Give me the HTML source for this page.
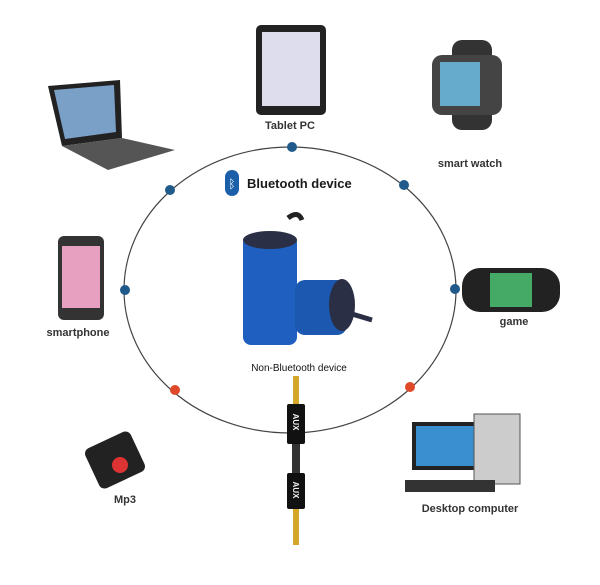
<!DOCTYPE html>
<html><head><meta charset="utf-8"><style>
body{margin:0;background:#fff;width:600px;height:580px;overflow:hidden;font-family:"Liberation Sans",sans-serif}
</style></head><body>
<svg width="600" height="580" viewBox="0 0 600 580" xmlns="http://www.w3.org/2000/svg">
<ellipse cx="290" cy="290" rx="166" ry="143" fill="none" stroke="#444" stroke-width="1.2"/>
<g fill="#1f5a8a">
<circle cx="292" cy="147" r="5"/><circle cx="170" cy="190" r="5"/><circle cx="404" cy="185" r="5"/>
<circle cx="125" cy="290" r="5"/><circle cx="455" cy="289" r="5"/></g>
<g fill="#e0482a"><circle cx="175" cy="390" r="5"/><circle cx="410" cy="387" r="5"/></g>
<g font-weight="bold" font-size="11" fill="#333" text-anchor="middle">
<text x="290" y="129">Tablet PC</text><text x="470" y="167">smart watch</text>
<text x="78" y="336">smartphone</text><text x="514" y="325">game</text>
<text x="125" y="503">Mp3</text><text x="470" y="512">Desktop computer</text>
<text x="299" y="371" font-weight="normal" font-size="10" fill="#111">Non-Bluetooth device</text>
<text x="247" y="188" font-size="13" fill="#1a1a1a" text-anchor="start">Bluetooth device</text></g>
<rect x="225" y="170" width="14" height="26" rx="7" fill="#1a5fa8"/><text x="232" y="188" font-size="12" fill="#fff" text-anchor="middle">ᛒ</text>
<!-- tablet -->
<rect x="256" y="25" width="70" height="90" rx="5" fill="#222"/><rect x="262" y="32" width="58" height="74" fill="#dde"/>
<!-- laptop -->
<polygon points="48,86 120,80 122,138 62,146" fill="#222"/><polygon points="54,90 114,85 116,132 65,139" fill="#7aa0c8"/>
<polygon points="62,146 122,138 175,150 108,170" fill="#555"/>
<!-- watch -->
<rect x="452" y="40" width="40" height="90" rx="10" fill="#333"/><rect x="432" y="55" width="70" height="60" rx="10" fill="#444"/><rect x="440" y="62" width="40" height="44" fill="#6ac"/>
<!-- phone -->
<rect x="58" y="236" width="46" height="84" rx="6" fill="#333"/><rect x="62" y="246" width="38" height="62" fill="#e8a0c0"/>
<!-- psvita -->
<rect x="462" y="268" width="98" height="44" rx="18" fill="#222"/><rect x="490" y="273" width="42" height="34" fill="#4a6"/>
<!-- speaker -->
<path d="M288,218 q10,-8 14,2" fill="none" stroke="#222" stroke-width="5"/>
<rect x="243" y="235" width="54" height="110" rx="8" fill="#1f5fbf"/>
<ellipse cx="270" cy="240" rx="27" ry="9" fill="#2a2f45"/>
<rect x="295" y="280" width="52" height="55" rx="10" fill="#1c57b0"/><ellipse cx="342" cy="305" rx="13" ry="26" fill="#2a2f45"/>
<path d="M352,314 l20,6" stroke="#2a2f45" stroke-width="5"/>
<!-- cable -->
<rect x="293" y="376" width="6" height="28" fill="#d4a62a"/><rect x="287" y="404" width="18" height="40" rx="2" fill="#111"/>
<rect x="292" y="444" width="8" height="30" fill="#333"/><rect x="287" y="473" width="18" height="36" rx="2" fill="#111"/><rect x="293" y="509" width="6" height="36" fill="#d4a62a"/>
<g fill="#eee" font-size="8" font-weight="bold" text-anchor="middle"><text x="296" y="425" transform="rotate(90 296 422)">AUX</text><text x="296" y="493" transform="rotate(90 296 490)">AUX</text></g>
<!-- mp3 -->
<rect x="90" y="438" width="50" height="44" rx="6" fill="#222" transform="rotate(-25 115 460)"/><circle cx="120" cy="465" r="8" fill="#d33"/>
<!-- desktop -->
<rect x="412" y="422" width="70" height="48" fill="#222"/><rect x="416" y="426" width="62" height="40" fill="#3a8fd0"/>
<rect x="474" y="414" width="46" height="70" fill="#ccc" stroke="#555"/><rect x="405" y="480" width="90" height="12" fill="#333"/>
</svg>
</body></html>
